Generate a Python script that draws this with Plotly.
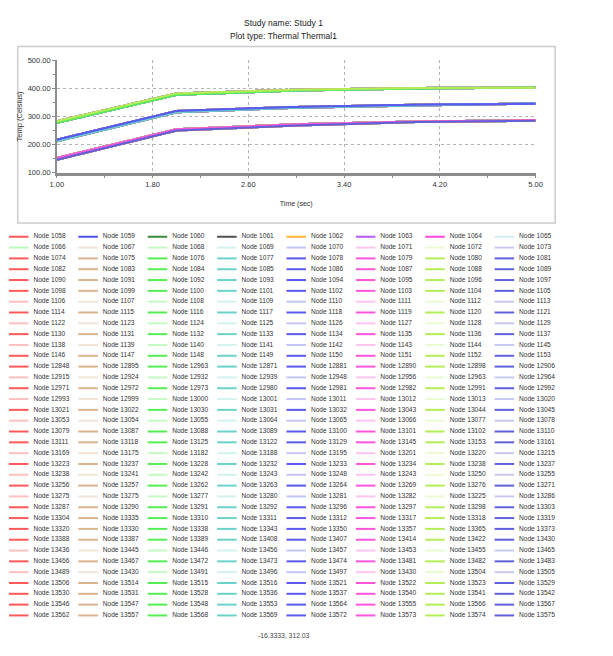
import plotly.graph_objects as go

W, H = 613, 656
FONT = "Liberation Sans Narrow, Arial Narrow, Liberation Sans, Arial, sans-serif"

# ---- temperature history (Celsius) at the solver time steps ----
times = [1.0, 2.0, 3.0, 4.0, 5.0]
profiles = {
    "a": [283, 382, 395, 401, 402],
    "b": [277, 377, 392, 399, 403],
    "c": [217, 319, 334, 342, 345],
    "d": [212, 315, 331, 340, 347],
    "e": [152, 254, 272, 282, 287],
    "f": [146, 250, 268, 280, 285],
}

# ---- node ids, 8 per legend row ----
node_rows = [
    [1058, 1059, 1060, 1061, 1062, 1063, 1064, 1065],
    [1066, 1067, 1068, 1069, 1070, 1071, 1072, 1073],
    [1074, 1075, 1076, 1077, 1078, 1079, 1080, 1081],
    [1082, 1083, 1084, 1085, 1086, 1087, 1088, 1089],
    [1090, 1091, 1092, 1093, 1094, 1095, 1096, 1097],
    [1098, 1099, 1100, 1101, 1102, 1103, 1104, 1105],
    [1106, 1107, 1108, 1109, 1110, 1111, 1112, 1113],
    [1114, 1115, 1116, 1117, 1118, 1119, 1120, 1121],
    [1122, 1123, 1124, 1125, 1126, 1127, 1128, 1129],
    [1130, 1131, 1132, 1133, 1134, 1135, 1136, 1137],
    [1138, 1139, 1140, 1141, 1142, 1143, 1144, 1145],
    [1146, 1147, 1148, 1149, 1150, 1151, 1152, 1153],
    [12848, 12895, 12963, 12871, 12881, 12890, 12898, 12906],
    [12915, 12924, 12932, 12939, 12948, 12956, 12963, 12964],
    [12971, 12972, 12973, 12980, 12981, 12982, 12991, 12992],
    [12993, 12999, 13000, 13001, 13011, 13012, 13013, 13020],
    [13021, 13022, 13030, 13031, 13032, 13043, 13044, 13045],
    [13053, 13054, 13055, 13064, 13065, 13066, 13077, 13078],
    [13079, 13087, 13088, 13089, 13100, 13101, 13102, 13110],
    [13111, 13118, 13125, 13122, 13129, 13145, 13153, 13161],
    [13169, 13175, 13182, 13188, 13195, 13201, 13220, 13215],
    [13223, 13237, 13228, 13232, 13233, 13234, 13238, 13237],
    [13238, 13241, 13242, 13243, 13248, 13243, 13250, 13255],
    [13256, 13257, 13262, 13263, 13264, 13269, 13276, 13271],
    [13275, 13275, 13277, 13280, 13281, 13282, 13225, 13286],
    [13287, 13290, 13291, 13292, 13296, 13297, 13298, 13303],
    [13304, 13335, 13310, 13311, 13312, 13317, 13318, 13319],
    [13320, 13330, 13338, 13343, 13350, 13357, 13365, 13373],
    [13388, 13387, 13389, 13408, 13407, 13414, 13422, 13430],
    [13436, 13445, 13446, 13456, 13457, 13453, 13455, 13465],
    [13466, 13467, 13472, 13473, 13474, 13481, 13482, 13483],
    [13489, 13430, 13491, 13496, 13497, 13430, 13504, 13505],
    [13506, 13514, 13515, 13516, 13521, 13522, 13523, 13529],
    [13530, 13531, 13528, 13536, 13537, 13540, 13541, 13542],
    [13546, 13547, 13548, 13553, 13564, 13555, 13566, 13567],
    [13562, 13557, 13568, 13569, 13572, 13573, 13574, 13575],
]

# which temperature history each node follows
node_profile = [
    "acebdfac", "bdfaceeb", "ceabdfca", "dfbcaeed", "eacdfbac", "fbdeacdb",
    "abcdefab", "cdefabcd", "efabcdef", "badcfeba", "dcfebadc", "febadcfe",
    "aecbfdae", "cbfdaecb", "fdaecbfd", "bacedfba", "edfbacde", "acbedfca",
    "dbfaceab", "cfadbecf", "beacfdbe", "fdbeacfd", "aedcbfae", "cbafedcb",
    "efdcbaef", "dacfebda", "bfeadcbf", "acfbdeac", "edbafcde", "fcaedbfc",
    "bdecafbd", "afcdbeaf", "cebfadce", "dbaecfdb", "ecfbdaec", "fabdceaf",
]

# S = saturated colour, L = pale colour for that legend row
row_shade = "SLSSSSLSLSLS" + "SLSLSLSSLSLSL" + "SSSSLSLSSSS"

strong_colors = ["#ff5a5a", "#d9b48c", "#55ee55", "#6cd3cc",
                 "#5a5af0", "#ff55dd", "#b4ee55", "#6060dd"]
light_colors = ["#ffc0c0", "#f2e4d6", "#c4fbc4", "#d2f2f0",
                "#c4c4f6", "#ffc4f2", "#eafbd2", "#c8c8f0"]
first_row_colors = ["#ff5a5a", "#5050ee", "#3c8a3c", "#505050",
                    "#ffb43c", "#b45af0", "#ff45e0", "#d4ecf6"]
special_colors = {(1, 0): "#b8fbb8"}


def node_color(r, c):
    if (r, c) in special_colors:
        return special_colors[(r, c)]
    if r == 0:
        return first_row_colors[c]
    return strong_colors[c] if row_shade[r] == "S" else light_colors[c]


fig = go.Figure()

# ---- temperature curves ----
for r, row in enumerate(node_rows):
    for c, nid in enumerate(row):
        fig.add_trace(go.Scatter(
            x=times, y=profiles[node_profile[r][c]], mode="lines",
            name=f"Node {nid}", line=dict(color=node_color(r, c), width=2),
            xaxis="x", yaxis="y", showlegend=False, hoverinfo="name+x+y",
        ))

# ---- key below the chart, laid out on a pixel-unit axis pair ----
COL_W, ROW_H, ROW0 = 71.0, 10.97, 236.0
seg_by_color = {}
lab_x, lab_y, lab_t = [], [], []
for r, row in enumerate(node_rows):
    for c, nid in enumerate(row):
        y = ROW0 + r * ROW_H
        x0 = 2 + c * COL_W
        sx, sy = seg_by_color.setdefault(node_color(r, c), ([], []))
        sx += [x0, x0 + 20, None]
        sy += [y, y, None]
        lab_x.append(x0 + 25)
        lab_y.append(y)
        lab_t.append(f"Node {nid}")

for col, (sx, sy) in seg_by_color.items():
    fig.add_trace(go.Scatter(x=sx, y=sy, mode="lines", line=dict(color=col, width=2),
                             xaxis="x2", yaxis="y2", showlegend=False, hoverinfo="skip"))
fig.add_trace(go.Scatter(x=lab_x, y=lab_y, text=lab_t, mode="text", textposition="middle right",
                         textfont=dict(family=FONT, size=6.6, color="#333333"),
                         xaxis="x2", yaxis="y2", showlegend=False, hoverinfo="skip"))

px = lambda v: v / W
py = lambda v: 1 - v / H

fig.update_layout(
    width=W, height=H,
    margin=dict(l=0, r=0, t=0, b=0),
    paper_bgcolor="white", plot_bgcolor="rgba(0,0,0,0)",
    font=dict(family=FONT, size=8, color="#333333"),
    xaxis=dict(
        domain=[px(51), px(541)], anchor="y", range=[1.0, 5.0],
        tick0=1.0, dtick=0.8, tickformat=".2f",
        showgrid=True, gridcolor="#b4b4b4", griddash="dot", gridwidth=1,
        showline=True, linecolor="#8c8c8c", linewidth=2.5,
        ticks="outside", ticklen=3, tickcolor="#8c8c8c",
        minor=dict(dtick=0.4, tick0=1.0, ticks="outside", ticklen=3,
                   tickcolor="#8c8c8c", showgrid=False),
        zeroline=False,
        title=dict(text="Time (sec)", font=dict(size=7), standoff=13),
        tickfont=dict(size=7.5),
    ),
    yaxis=dict(
        domain=[py(171), py(57)], anchor="x", range=[100, 500],
        tick0=100, dtick=100, tickformat=".2f",
        showgrid=True, gridcolor="#b4b4b4", griddash="dot", gridwidth=1,
        showline=True, linecolor="#8c8c8c", linewidth=1.5,
        ticks="outside", ticklen=3, tickcolor="#8c8c8c",
        minor=dict(dtick=50, tick0=100, ticks="outside", ticklen=2,
                   tickcolor="#8c8c8c", showgrid=False),
        zeroline=False,
        title=dict(text="Temp (Celsius)", font=dict(size=7.5), standoff=4),
        tickfont=dict(size=7.5),
    ),
    xaxis2=dict(domain=[0, 1], anchor="y2", range=[0, W], visible=False, fixedrange=True),
    yaxis2=dict(domain=[0, 1], anchor="x2", range=[H, 0], visible=False, fixedrange=True),
    shapes=[dict(type="rect", xref="paper", yref="paper",
                 x0=px(11), x1=px(561), y0=py(222), y1=py(43),
                 fillcolor="white", line=dict(color="#cccccc", width=1.5), layer="below")],
    annotations=[
        dict(text="Study name: Study 1", x=px(283), y=py(12), xref="paper", yref="paper",
             showarrow=False, font=dict(size=8.5, color="#222222")),
        dict(text="Plot type: Thermal Thermal1", x=px(283), y=py(25), xref="paper", yref="paper",
             showarrow=False, font=dict(size=8.5, color="#222222")),
        dict(text="-16.3333, 312.03", x=px(283), y=py(646), xref="paper", yref="paper",
             showarrow=False, font=dict(size=6.8, color="#444444")),
    ],
)

fig.write_html("out.html")
